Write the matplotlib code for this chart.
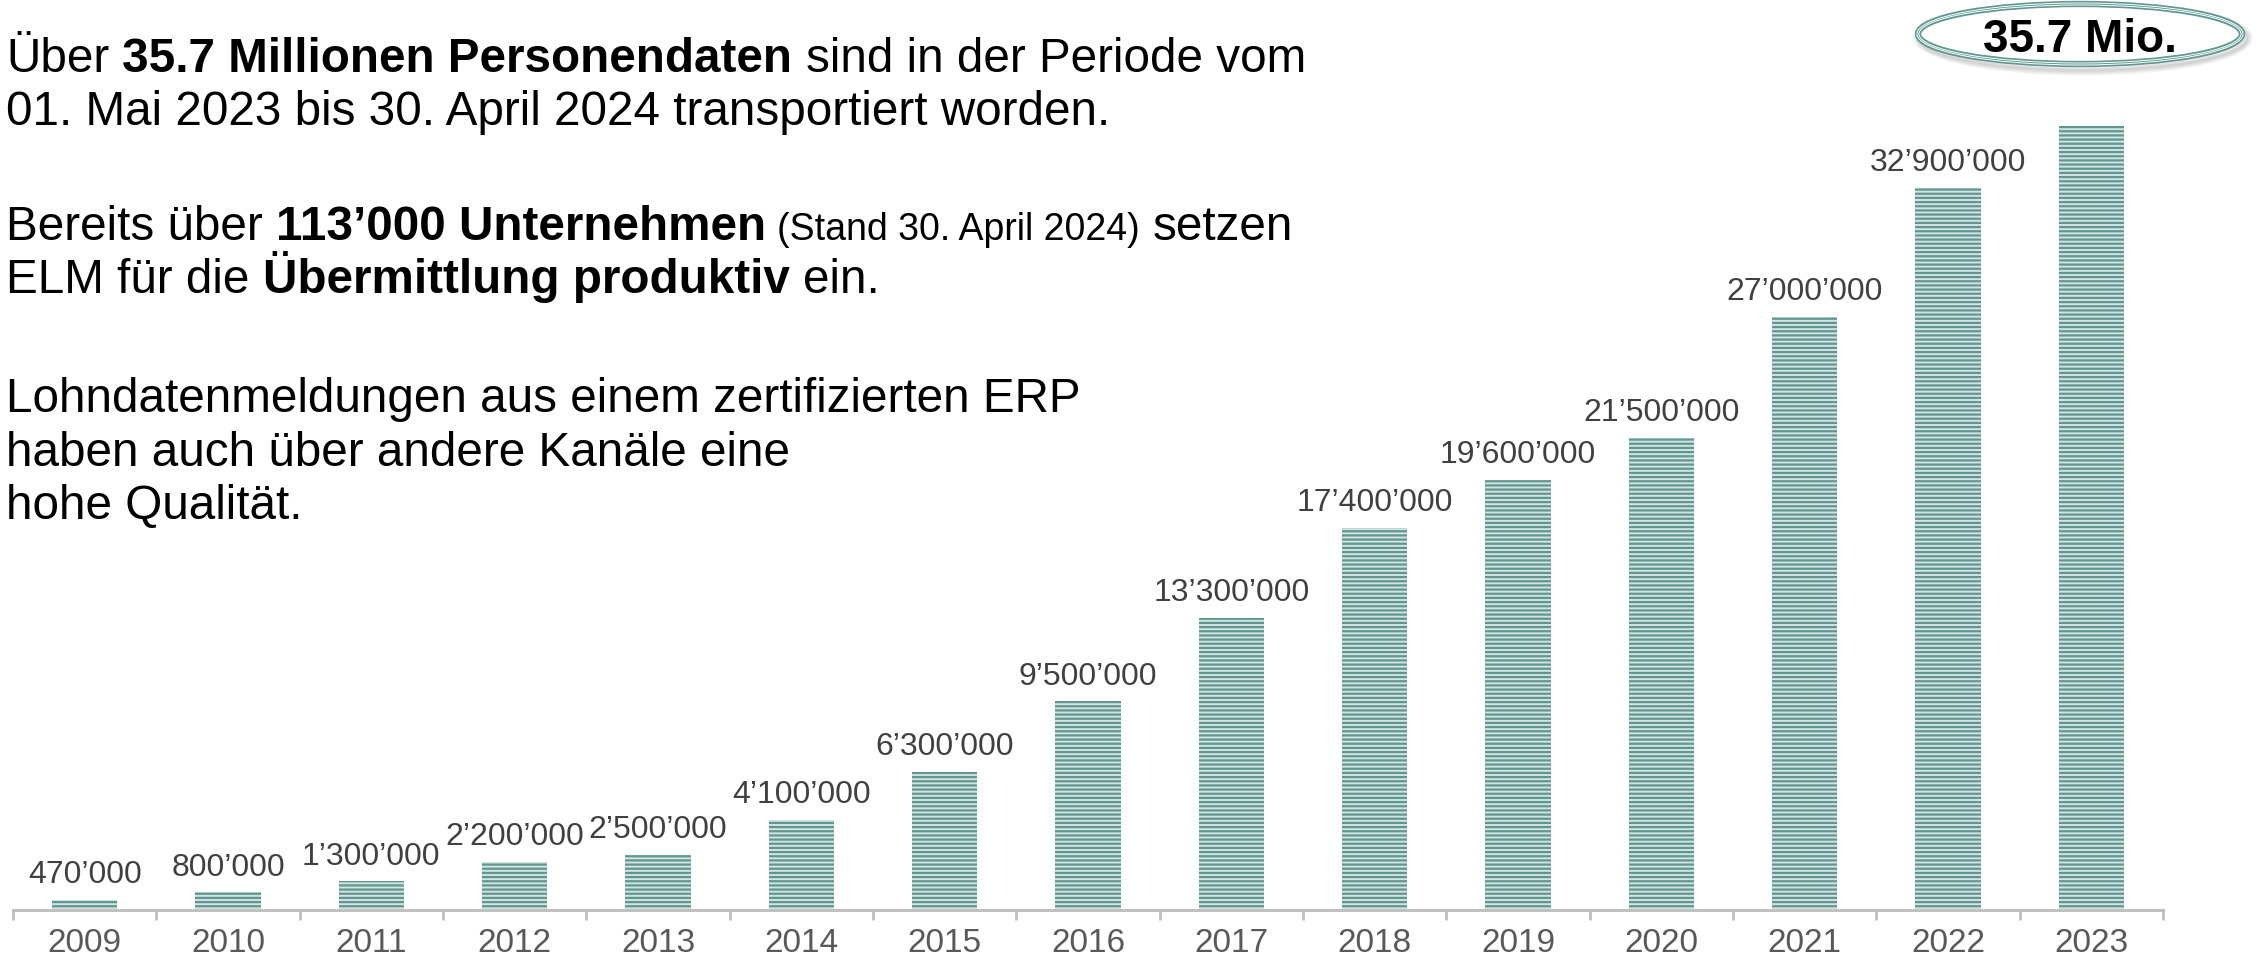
import matplotlib
matplotlib.use("Agg")
import matplotlib.pyplot as plt
from matplotlib.patches import Ellipse
import numpy as np

plt.rcParams['font.family'] = ['Liberation Sans', 'DejaVu Sans']
plt.rcParams['hatch.linewidth'] = 1.6

years = ['2009', '2010', '2011', '2012', '2013', '2014', '2015', '2016',
         '2017', '2018', '2019', '2020', '2021', '2022', '2023']
values = [470000, 800000, 1300000, 2200000, 2500000, 4100000, 6300000, 9500000,
          13300000, 17400000, 19600000, 21500000, 27000000, 32900000, 35700000]
labels = ['470’000', '800’000', '1’300’000', '2’200’000', '2’500’000', '4’100’000',
          '6’300’000', '9’500’000', '13’300’000', '17’400’000', '19’600’000',
          '21’500’000', '27’000’000', '32’900’000', '']
badge = '35.7 Mio.'

# left text block: runs of (text, weight, size)
text_lines = [
    [('Über', 'normal', 34.3), ('35.7 Millionen Personendaten', 'bold', 34.3),
     ('sind in der Periode vom', 'normal', 34.3)],
    [('01. Mai 2023 bis 30. April 2024 transportiert worden.', 'normal', 34.3)],
    [('Bereits über', 'normal', 34.3), ('113’000 Unternehmen', 'bold', 34.3),
     ('(Stand 30. April 2024)', 'normal', 27), ('setzen', 'normal', 34.3)],
    [('ELM für die', 'normal', 34.3), ('Übermittlung produktiv', 'bold', 34.3),
     ('ein.', 'normal', 34.3)],
    [('Lohndatenmeldungen aus einem zertifizierten ERP', 'normal', 34.3)],
    [('haben auch über andere Kanäle eine', 'normal', 34.3)],
    [('hohe Qualität.', 'normal', 34.3)],
]
line_baselines = [72, 125, 240, 293, 412, 466, 519]

teal = '#609891'
W, H = 2262, 964
fig = plt.figure(figsize=(W / 100, H / 100), dpi=100)
ax = fig.add_axes([13 / W, (H - 910) / H, 2150 / W, 910 / H])

x = np.arange(len(years))
ax.bar(x, values, width=0.455, color='#d3e4e1', edgecolor=teal,
       linewidth=0, hatch='----', zorder=2)

for i, (v, lab) in enumerate(zip(values, labels)):
    if lab:
        ax.annotate(lab, (i, v), xytext=(0, 12), textcoords='offset points',
                    ha='center', va='baseline', fontsize=23, color='#404040')

ax.set_xlim(-0.5, len(years) - 0.5)
ax.set_ylim(0, 41.44e6)
for s in ['top', 'right', 'left']:
    ax.spines[s].set_visible(False)
ax.spines['bottom'].set_color('#c0c0c0')
ax.spines['bottom'].set_linewidth(2.2)
ax.set_yticks([])
ax.set_xticks(x)
ax.set_xticklabels(years, fontsize=24, color='#595959')
ax.set_xticks(np.arange(-0.5, len(years)), minor=True)
ax.tick_params(axis='x', which='major', length=0, pad=13)
ax.tick_params(axis='x', which='minor', length=7, width=2, color='#c0c0c0')

# badge ellipse with soft shadow and compound border
cx, cy, ew, eh = 2080, 34, 324, 60
for k in range(6):
    fig.patches.append(Ellipse(((cx + 3) / W, 1 - (cy + 4) / H), (ew + k * 2) / W,
                               (eh + k * 2) / H, transform=fig.transFigure,
                               facecolor='none', edgecolor='#000000',
                               alpha=0.03, linewidth=4))
fig.patches.append(Ellipse((cx / W, 1 - cy / H), ew / W, eh / H,
                           transform=fig.transFigure, facecolor='white',
                           edgecolor=teal, linewidth=4.5))
for d in (-2.0, 2.0):
    fig.patches.append(Ellipse((cx / W, 1 - cy / H), (ew + d) / W, (eh + d) / H,
                               transform=fig.transFigure, facecolor='none',
                               edgecolor='white', linewidth=0.7))
fig.text(cx / W, 1 - (cy + 1) / H, badge, ha='center', va='center_baseline',
         fontsize=33, fontweight='bold', color='black')

# left text, runs placed one after another
renderer = fig.canvas.get_renderer()
for runs, yb in zip(text_lines, line_baselines):
    xp = 6
    for j, (s, wgt, size) in enumerate(runs):
        if j > 0:
            xp += 0.278 * size * 100 / 72
        t = fig.text(xp / W, 1 - yb / H, s, fontsize=size, fontweight=wgt,
                     ha='left', va='baseline', color='black')
        xp += t.get_window_extent(renderer).width

fig.savefig('out.png', dpi=100)
